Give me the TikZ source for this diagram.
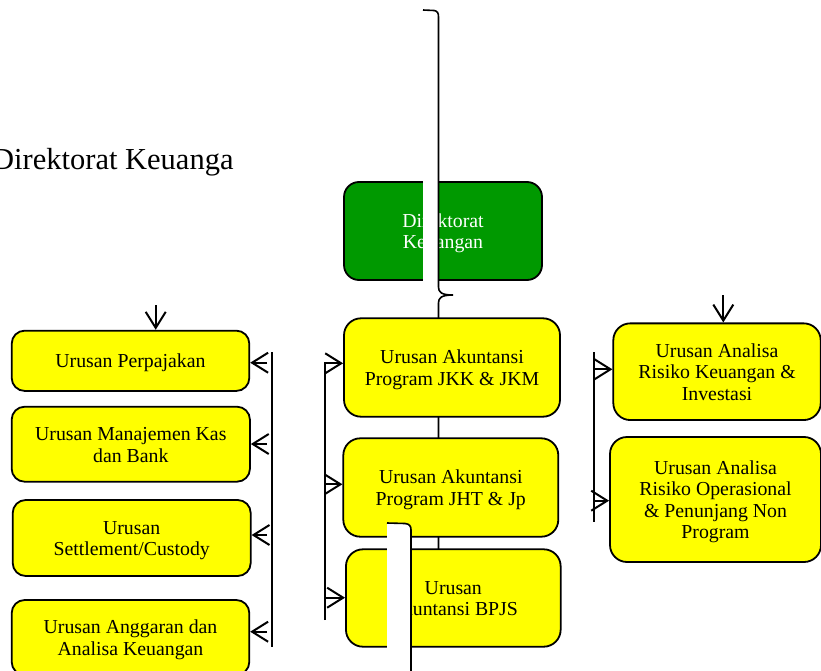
\documentclass[tikz,border=0pt]{standalone}
\usepackage{fontspec}
\setmainfont{Liberation Serif}
\usetikzlibrary{arrows.meta}
\definecolor{unityellow}{RGB}{255,255,0}
\definecolor{dirgreen}{RGB}{0,153,0}
% struts keep every label at the same offset inside its box
\newcommand\lbl[1]{\rule{0pt}{19pt}#1\rule[-5pt]{0pt}{5pt}}
\begin{document}
\begin{tikzpicture}[x=1pt,y=-1pt,
  unit/.style={draw=black, line width=1.8pt, rounded corners=13pt, fill=unityellow,
    inner sep=0pt, align=center, font=\fontsize{19.8}{21.6}\selectfont},
  midunit/.style={unit, rounded corners=17pt},
  dirbox/.style={unit, rounded corners=15pt, fill=dirgreen, text=white},
  link/.style={line width=2pt},
  arr/.style={line width=2pt, -{Straight Barb[length=16pt,width=20pt]}},
  bracket/.style={draw=black, fill=white, line width=1.6pt}]
\path[use as bounding box] (0,0) rectangle (821,671);
\clip (0,0) rectangle (821,671);

% heading
\node[anchor=base west, inner sep=0pt, font=\fontsize{30.5}{36}\selectfont] (title) at (-8,170) {Direktorat Keuanga};

% head unit
\node[dirbox, minimum width=198pt, minimum height=98pt] (dir) at (443,231) {\lbl{Direktorat\\Keuangan}};

% upper brace
\path[bracket] (423,10) -- (434,10.5) .. controls (437.5,11) and (438.5,13) .. (438.5,17)
  -- (438.5,287) .. controls (438.5,292) and (441,295) .. (453,295)
  .. controls (441,295) and (438.5,298) .. (438.5,303)
  -- (438.5,573) .. controls (438.5,577) and (437.5,579.5) .. (434,579.5) -- (423,580);

% accounting units
\node[midunit, minimum width=216pt, minimum height=98.4pt] (c1) at (452,367.5) {\lbl{Urusan Akuntansi\\Program JKK \& JKM}};
\node[midunit, minimum width=215pt, minimum height=98.4pt] (c2) at (450.8,487.5) {\lbl{Urusan Akuntansi\\Program JHT \& Jp}};
\node[midunit, minimum width=214.7pt, minimum height=97.4pt] (c3) at (453.3,598) {\lbl{Urusan\\Akuntansi BPJS}};

% treasury units
\node[unit, minimum width=237.6pt, minimum height=60.3pt] (l1) at (130.5,360.8) {\lbl{Urusan Perpajakan}};
\node[unit, minimum width=238.3pt, minimum height=75pt] (l2) at (130.8,444.2) {\lbl{Urusan Manajemen Kas\\dan Bank}};
\node[unit, minimum width=238pt, minimum height=76pt] (l3) at (131.7,538) {\lbl{Urusan\\Settlement/Custody}};
\node[unit, minimum width=237.6pt, minimum height=75pt] (l4) at (130.5,637.5) {\lbl{Urusan Anggaran dan\\Analisa Keuangan}};

% risk units
\node[midunit, minimum width=207.4pt, minimum height=96.7pt] (r1) at (717,371.7) {\lbl{Urusan Analisa\\Risiko Keuangan \&\\Investasi}};
\node[midunit, minimum width=211pt, minimum height=125pt] (r2) at (715.5,499.5) {\lbl{Urusan Analisa\\Risiko Operasional\\\& Penunjang Non\\Program}};

% lower brace
\path[bracket] (387,523) -- (405,523.5) .. controls (409.5,524) and (411,526) .. (411,530)
  -- (411,700) -- (387,700);

% left bus
\coordinate (ltop) at (272,352);
\coordinate (lbot) at (272,647);
\draw[link] (ltop) -- (lbot);
\coordinate (la1) at (267,362.7);
\coordinate (la2) at (267,444);
\coordinate (la3) at (267,535);
\coordinate (la4) at (267,631.7);
\draw[arr] (la1) -- (la1 -| l1.east);
\draw[arr] (la2) -- (la2 -| l2.east);
\draw[arr] (la3) -- (la3 -| l3.east);
\draw[arr] (la4) -- (la4 -| l4.east);

% centre bus
\coordinate (ctop) at (325,363.3);
\coordinate (cbot) at (325,620);
\coordinate (cb2) at (325,484.3);
\coordinate (cb3) at (325,597.7);
\draw[arr] (cbot) -- (ctop) -- (ctop -| c1.west);
\draw[arr] (cb2) -- (cb2 -| c2.west);
\draw[arr] (cb3) -- (cb3 -| c3.west);

% right bus
\coordinate (rtop) at (594,352);
\coordinate (rbot) at (594,522);
\draw[link] (rtop) -- (rbot);
\coordinate (ra1) at (594,369.3);
\coordinate (ra2) at (594,500.7);
\draw[arr] (ra1) -- (ra1 -| r1.west);
\draw[arr] (ra2) -- (ra2 -| r2.west);

% incoming arrows from above
\coordinate (lin) at (155.7,305);
\coordinate (rin) at (723.3,295);
\draw[arr] (lin) -- (lin |- l1.north);
\draw[arr] (rin) -- (rin |- r1.north);
\end{tikzpicture}
\end{document}
